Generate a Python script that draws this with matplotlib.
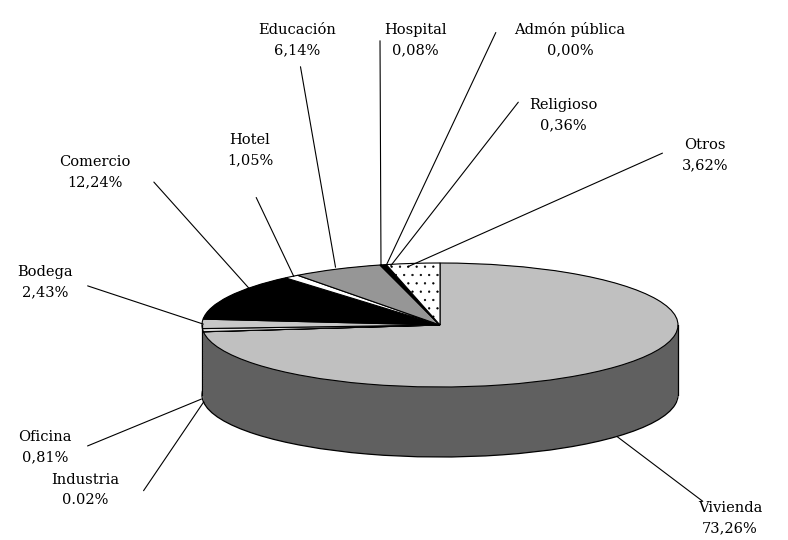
import matplotlib
matplotlib.use("Agg")
import matplotlib.pyplot as plt

labels = ["Vivienda", "Industria", "Oficina", "Bodega", "Comercio", "Hotel",
          "Educación", "Hospital", "Admón pública", "Religioso", "Otros"]
pct_text = ["73,26%", "0.02%", "0,81%", "2,43%", "12,24%", "1,05%",
            "6,14%", "0,08%", "0,00%", "0,36%", "3,62%"]
values = [73.26, 0.02, 0.81, 2.43, 12.24, 1.05, 6.14, 0.08, 0.00, 0.36, 3.62]

top_colors = ["#c0c0c0", "#808080", "#e0e0e0", "#c8c8c8", "#000000", "#ffffff",
              "#969696", "#000000", "#000000", "#000000", "#ffffff"]
side_colors = ["#606060", "#404040", "#707070", "#646464", "#000000", "#808080",
               "#4b4b4b", "#000000", "#000000", "#000000", "#808080"]

label_pos = [(730, 518), (85, 490), (45, 447), (45, 282), (95, 172), (250, 150),
             (297, 40), (415, 40), (570, 40), (563, 115), (705, 155)]
leader = [((705, 503), (615, 435)), ((142, 493), (205, 400)), ((85, 447), (204, 398)),
          ((85, 285), (206, 325)), ((152, 180), (255, 295)), ((255, 195), (295, 279)),
          ((300, 64), (336, 270)), ((380, 38), (381, 268)), ((497, 30), (385, 268)),
          ((520, 100), (389, 268)), ((665, 152), (405, 268))]

W, H = 788, 540
cx, cy, rx, ry, depth_px = 440, 325, 238, 62, 70
plt.rcParams["hatch.linewidth"] = 0.4

fig = plt.figure(figsize=(W / 100, H / 100), dpi=100)
ax = fig.add_axes([0, 0, 1, 1])

d = depth_px / ry
vals = [max(v, 1e-4) for v in values]
n = 40
for k in range(n + 1):
    yc = -d * (1 - k / n)
    ax.pie(vals, colors=side_colors, startangle=90, counterclock=False,
           center=(0, yc), radius=1, frame=True,
           wedgeprops=dict(edgecolor="black" if k == 0 else "none",
                           linewidth=0.9 if k == 0 else 0))
ax.plot([-1, -1], [0, -d], color="black", lw=0.9)
ax.plot([1, 1], [0, -d], color="black", lw=0.9)
wedges, _ = ax.pie(vals, colors=top_colors, startangle=90, counterclock=False,
                   center=(0, 0), radius=1, frame=True,
                   wedgeprops=dict(edgecolor="black", linewidth=0.8))
wedges[-1].set_hatch("..")
ax.set_xlim(-cx / rx, (W - cx) / rx)
ax.set_ylim(-(H - cy) / ry, cy / ry)
ax.set_aspect("auto")
ax.axis("off")

for lab, pt, (x, y), (p0, p1) in zip(labels, pct_text, label_pos, leader):
    fig.text(x / W, 1 - y / H, f"{lab}\n{pt}", ha="center", va="center",
             family="DejaVu Serif", fontsize=10.5, linespacing=1.55)
    ax.annotate("", xy=(p1[0], H - p1[1]), xycoords="figure pixels",
                xytext=(p0[0], H - p0[1]), textcoords="figure pixels",
                arrowprops=dict(arrowstyle="-", color="black", lw=0.8))

fig.savefig("out.png", dpi=100)
